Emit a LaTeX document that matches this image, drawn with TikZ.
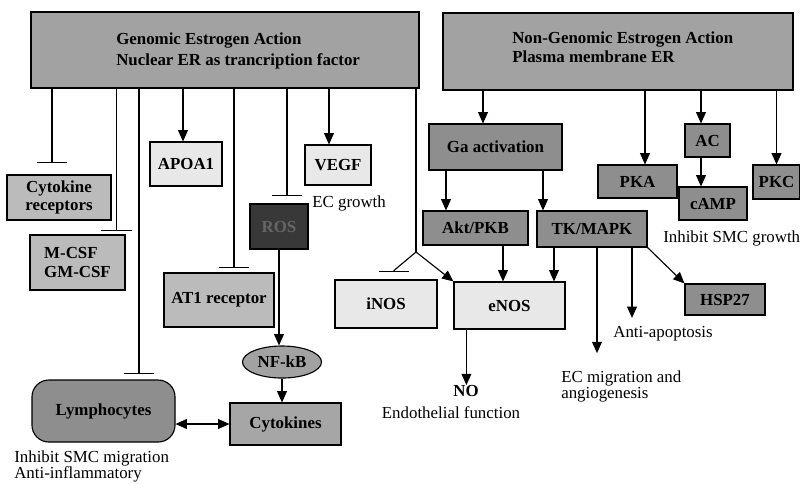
\documentclass[tikz,border=0pt]{standalone}
\usepackage{fontspec}
\setmainfont{Liberation Serif}
\usetikzlibrary{positioning, shapes, calc, arrows.meta}

\definecolor{headfill}{HTML}{A2A2A2}
\definecolor{darkfill}{HTML}{8E8E8E}
\definecolor{midfill}{HTML}{BBBBBB}
\definecolor{lightfill}{HTML}{E8E8E8}
\definecolor{rosfill}{HTML}{383838}

\tikzset{
  box/.style={draw, line width=0.8pt, inner sep=0pt, align=center,
    font=\fontsize{12}{13}\selectfont\bfseries},
  headbox/.style={box, fill=headfill},
  darkbox/.style={box, fill=darkfill},
  midbox/.style={box, fill=midfill},
  lightbox/.style={box, fill=lightfill},
  plain/.style={inner sep=0pt, align=left, font=\fontsize{12}{13}\selectfont},
  arr/.style={line width=0.8pt, -{Triangle[length=8pt,width=7pt]}},
  dblarr/.style={line width=0.8pt, {Triangle[length=8pt,width=7pt]}-{Triangle[length=8pt,width=7pt]}},
  inh/.style={line width=0.8pt, -{Bar[width=22pt]}}
}

\begin{document}
\begin{tikzpicture}[x=0.025cm, y=-0.025cm]
  \useasboundingbox (0,0) rectangle (800,483);

  % Headings
  \node[headbox, minimum width=9.7cm, minimum height=1.9cm] (gen) at (225,50) {};
  \node[plain, font=\fontsize{12}{14.5}\selectfont\bfseries, anchor=west] (gentxt) at (116,51)
    {Genomic Estrogen Action\\Nuclear ER as trancription factor};
  \node[headbox, minimum width=8.75cm, minimum height=1.925cm] (ngen) at (618,51.5) {};
  \node[plain, font=\fontsize{12}{13.5}\selectfont\bfseries, anchor=west] (ngentxt) at (512,47.5)
    {Non-Genomic Estrogen Action\\Plasma membrane ER};

  % Genomic targets
  \node[midbox, minimum width=2.6cm, minimum height=1.125cm] (cytrec) at (59,197.5) {Cytokine\\receptors};
  \node[midbox, minimum width=2.375cm, minimum height=1.375cm, align=left] (mcsf) at (77.5,262.5) {M-CSF\\GM-CSF};
  \node[box, fill=darkfill, rounded corners=12pt, minimum width=3.575cm, minimum height=1.55cm] (lymph) at (103.5,411) {Lymphocytes};
  \node[lightbox, minimum width=1.8cm, minimum height=1.1cm] (apoa) at (186,164) {APOA1};
  \node[midbox, minimum width=2.75cm, minimum height=1.35cm] (at1) at (219,300) {AT1 receptor};
  \node[box, fill=rosfill, text=black!60, minimum width=1.45cm, minimum height=1.125cm] (ros) at (279,226.5) {ROS};
  \node[lightbox, minimum width=1.65cm, minimum height=1cm] (vegf) at (338,165) {VEGF};
  \node[box, ellipse, fill=headfill, minimum width=1.975cm, minimum height=0.8cm] (nfkb) at (282,362) {NF-kB};
  \node[box, fill=black!35, minimum width=2.775cm, minimum height=1.05cm] (cytok) at (285.5,424) {Cytokines};
  \node[lightbox, minimum width=2.55cm, minimum height=1.2cm] (inos) at (386,304) {iNOS};
  \node[lightbox, minimum width=2.775cm, minimum height=1.175cm] (enos) at (509.5,305.5) {eNOS};

  % Non-genomic targets
  \node[darkbox, minimum width=3.325cm, minimum height=1.15cm] (ga) at (495.5,147) {Ga activation};
  \node[darkbox, minimum width=2.625cm, minimum height=0.85cm] (akt) at (475.5,228) {Akt/PKB};
  \node[darkbox, minimum width=2.75cm, minimum height=0.9cm] (tk) at (592,229) {TK/MAPK};
  \node[darkbox, minimum width=1.975cm, minimum height=0.825cm] (pka) at (637.5,181.5) {PKA};
  \node[darkbox, minimum width=1.125cm, minimum height=0.825cm] (ac) at (707.5,140.5) {AC};
  \node[darkbox, minimum width=1.7cm, minimum height=0.825cm] (camp) at (713,203.5) {cAMP};
  \node[darkbox, minimum width=1.175cm, minimum height=0.85cm] (pkc) at (776.5,182) {PKC};
  \node[darkbox, minimum width=2cm, minimum height=0.775cm] (hsp) at (725,299.5) {HSP27};

  % Effect labels
  \node[plain, anchor=west] (ecgrowth) at (312,203) {EC growth};
  \node[plain, anchor=west] (smcgrowth) at (663,238) {Inhibit SMC growth};
  \node[plain, anchor=north west, font=\fontsize{12}{12}\selectfont] (smcmig) at (14,450) {Inhibit SMC migration\\Anti-inflammatory};
  \node[plain, font=\fontsize{12}{13}\selectfont\bfseries] (no) at (466,391) {NO};
  \node[plain] (endo) at (451,413) {Endothelial function};
  \node[plain, anchor=north west, font=\fontsize{12}{12}\selectfont] (ecmig) at (561,370) {EC migration and\\angiogenesis};
  \node[plain] (apopt) at (663,334) {Anti-apoptosis};

  % Connector end points
  \coordinate (split) at (416,252);
  \coordinate (cytrecin) at ($(cytrec.north)+(-7,-11)$);
  \coordinate (mcsfin) at ($(mcsf.north)+(39,-3)$);
  \coordinate (lymphin) at ($(lymph.north)+(35.5,-5)$);
  \coordinate (apoain) at ($(apoa.north)+(-3,0)$);
  \coordinate (at1in) at ($(at1.north)+(15,-4)$);
  \coordinate (rosin) at ($(ros.north)+(8,-7)$);
  \coordinate (vegfin) at ($(vegf.north)+(-9,0)$);
  \coordinate (inosin) at ($(inos.north)+(8,-7)$);
  \coordinate (enosout) at ($(enos.south west)+(13,0)$);
  \coordinate (gain) at ($(ga.north)+(-12.5,0)$);
  \coordinate (aktin) at ($(akt.north)+(-29.5,0)$);
  \coordinate (tkin) at ($(tk.north)+(-49,0)$);
  \coordinate (aktout) at ($(akt.south)+(27.5,0)$);
  \coordinate (tkout) at ($(tk.south)+(-38,0)$);
  \coordinate (tkmig) at ($(tk.south)+(5,0)$);
  \coordinate (tkapo) at ($(tk.south)+(40,0)$);
  \coordinate (pkain) at ($(pka.north)+(7.5,0)$);
  \coordinate (acin) at ($(ac.north)+(-6.5,0)$);
  \coordinate (acout) at ($(ac.south)+(-6.5,0)$);

  % Genomic connectors
  \draw[inh] (cytrecin |- gen.south) -- (cytrecin);
  \draw[inh] (mcsfin |- gen.south) -- (mcsfin);
  \draw[inh] (lymphin |- gen.south) -- (lymphin);
  \draw[arr] (apoain |- gen.south) -- (apoain);
  \draw[inh] (at1in |- gen.south) -- (at1in);
  \draw[inh] (rosin |- gen.south) -- (rosin);
  \draw[arr] (vegfin |- gen.south) -- (vegfin);
  \draw[line width=0.8pt] (split |- gen.south) -- (split);
  \draw[inh] (split) -- ($(inosin)+(0,-2)$) -- (inosin);
  \draw[arr] (split) -- (enos.north west);
  \draw[arr] (ros.south) -- (ros.south |- nfkb.north);
  \draw[arr] (nfkb.south) -- (nfkb.south |- cytok.north);
  \draw[dblarr] (cytok.west -| lymph.east) -- (cytok.west);
  \draw[arr] (enosout) -- (enosout |- no.north);

  % Non-genomic connectors
  \draw[arr] (gain |- ngen.south) -- (gain);
  \draw[arr] (aktin |- ga.south) -- (aktin);
  \draw[arr] (tkin |- ga.south) -- (tkin);
  \draw[arr] (aktout) -- (aktout |- enos.north);
  \draw[arr] (tkout) -- (tkout |- enos.north);
  \draw[arr, shorten >=12pt] (tkmig) -- (tkmig |- ecmig.north);
  \draw[arr, shorten >=6pt] (tkapo) -- (tkapo |- apopt.north);
  \draw[arr] (tk.south east) -- (hsp.north west);
  \draw[arr] (pkain |- ngen.south) -- (pkain);
  \draw[arr] (acin |- ngen.south) -- (acin);
  \draw[arr] (acout) -- (acout |- camp.north);
  \draw[arr] (pkc.north |- ngen.south) -- (pkc.north);
\end{tikzpicture}
\end{document}
